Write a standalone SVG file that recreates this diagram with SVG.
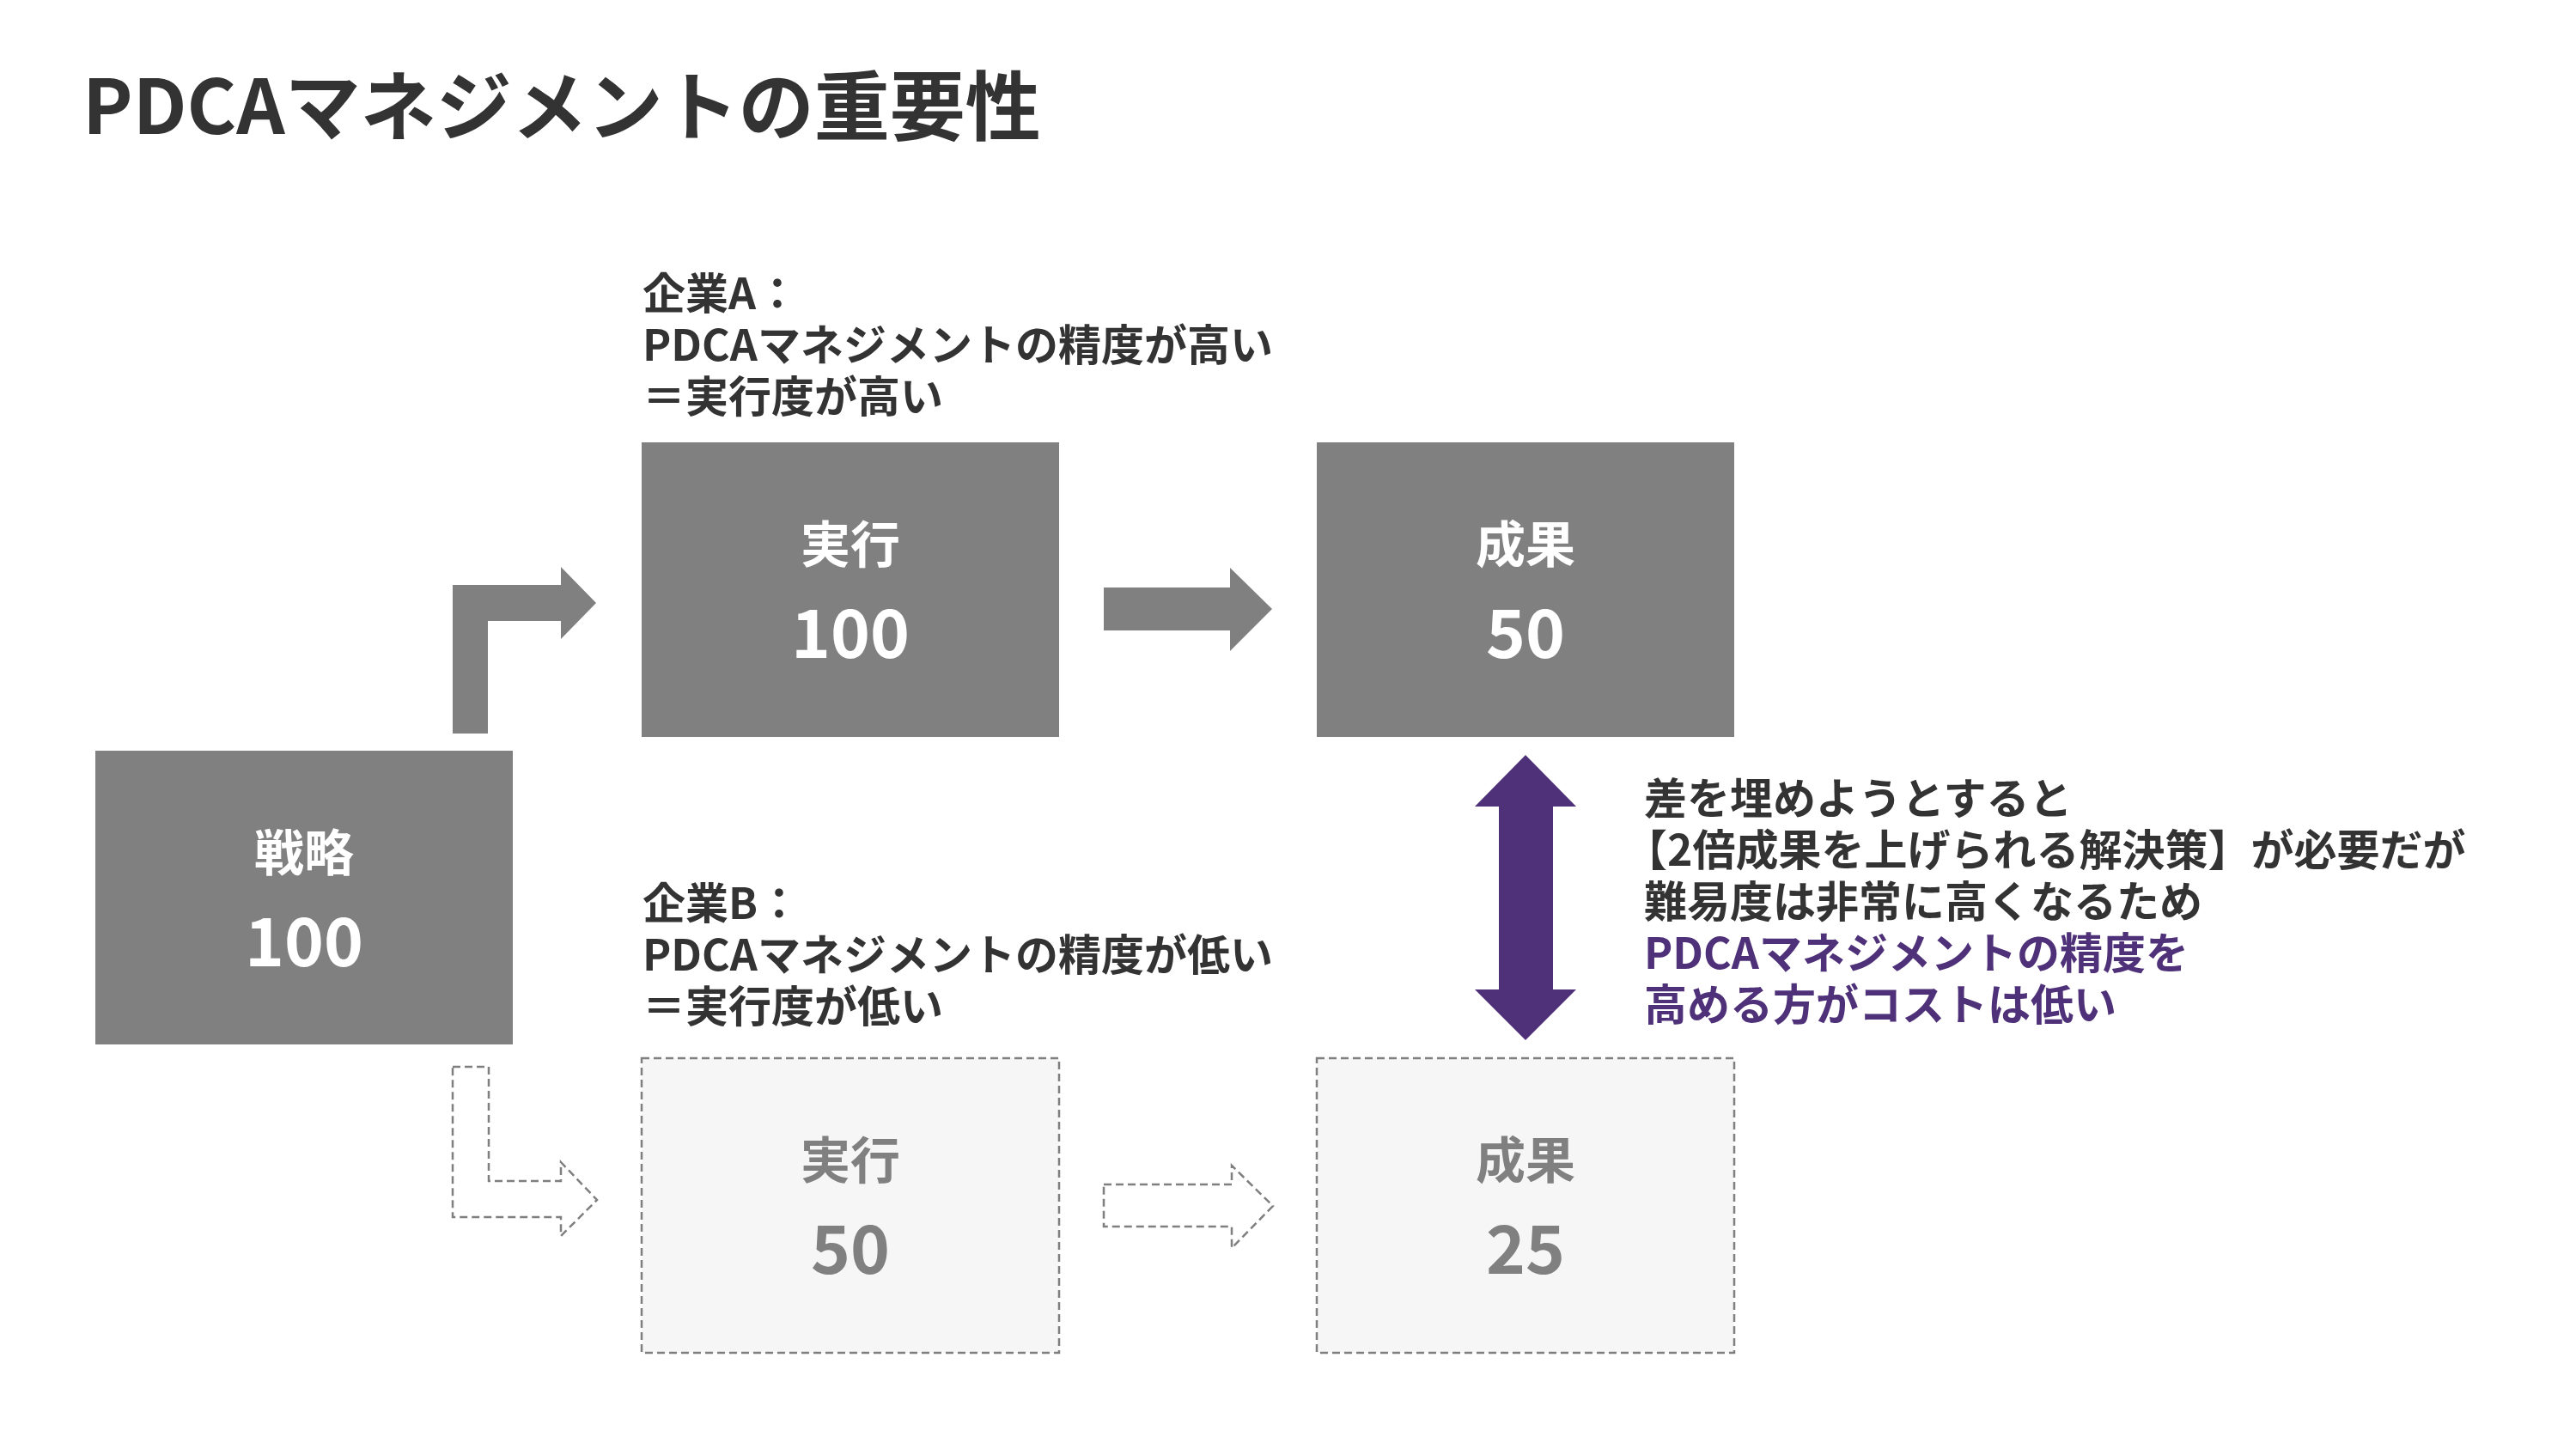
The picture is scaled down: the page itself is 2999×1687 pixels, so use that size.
<svg xmlns="http://www.w3.org/2000/svg" width="2999" height="1687" viewBox="0 0 2999 1687">
<style>
text{font-family:"Noto Sans CJK JP","Noto Sans",sans-serif;font-weight:700}
.title{font-size:88px;fill:#333333}
.lbl{font-size:50px;fill:#333333}
.pur{fill:#4F3179}
.solid{fill:#808080}
.dash{fill:#f6f6f6;stroke:#7f7f7f;stroke-width:2.5;stroke-dasharray:9 5}
.darr{fill:#ffffff;stroke:#7f7f7f;stroke-width:2.5;stroke-dasharray:9 5}
.nm{font-size:58px;text-anchor:middle}
.num{font-size:78px;text-anchor:middle}
.w{fill:#ffffff}
.g{fill:#808080}
</style>
<rect width="2999" height="1687" fill="#ffffff"/>
<text class="title" x="96" y="156">PDCAマネジメントの重要性</text>

<g id="label-a">
<text class="lbl"><tspan x="748" y="360">企業A：</tspan><tspan x="748" y="420">PDCAマネジメントの精度が高い</tspan><tspan x="748" y="480">＝実行度が高い</tspan></text>
</g>
<g id="label-b">
<text class="lbl"><tspan x="748" y="1070">企業B：</tspan><tspan x="748" y="1130">PDCAマネジメントの精度が低い</tspan><tspan x="748" y="1190">＝実行度が低い</tspan></text>
</g>

<g id="node-strategy">
<rect class="solid" x="111" y="874" width="486" height="342"/>
<text class="nm w" x="354" y="1014">戦略</text>
<text class="num w" x="354" y="1125">100</text>
</g>
<g id="node-exec-a">
<rect class="solid" x="747" y="515" width="486" height="343"/>
<text class="nm w" x="990" y="655">実行</text>
<text class="num w" x="990" y="766">100</text>
</g>
<g id="node-result-a">
<rect class="solid" x="1533" y="515" width="486" height="343"/>
<text class="nm w" x="1776" y="655">成果</text>
<text class="num w" x="1776" y="766">50</text>
</g>
<g id="node-exec-b">
<rect class="dash" x="747" y="1232" width="486" height="343"/>
<text class="nm g" x="990" y="1372">実行</text>
<text class="num g" x="990" y="1483">50</text>
</g>
<g id="node-result-b">
<rect class="dash" x="1533" y="1232" width="486" height="343"/>
<text class="nm g" x="1776" y="1372">成果</text>
<text class="num g" x="1776" y="1483">25</text>
</g>

<g id="connectors">
<polygon class="solid" points="527,854 527,681 653,681 653,660 694,702 653,744 653,723 568,723 568,854"/>
<polygon class="solid" points="1285,684 1432,684 1432,661 1481,709 1432,758 1432,734 1285,734"/>
<polygon class="darr" points="527,1242 569,1242 569,1375 653,1375 653,1353 695,1397 653,1439 653,1417 527,1417"/>
<polygon class="darr" points="1285,1379 1434,1379 1434,1357 1482,1404 1434,1453 1434,1428 1285,1428"/>
<polygon class="pur" points="1776,879 1835,939 1808,939 1808,1152 1835,1152 1776,1211 1717,1152 1745,1152 1745,939 1717,939"/>
</g>

<g id="note">
<text class="lbl"><tspan x="1914" y="948">差を埋めようとすると</tspan><tspan x="1891" y="1008">【2倍成果を上げられる解決策】が必要だが</tspan><tspan x="1914" y="1068">難易度は非常に高くなるため</tspan><tspan class="pur" x="1914" y="1128">PDCAマネジメントの精度を</tspan><tspan class="pur" x="1914" y="1188">高める方がコストは低い</tspan></text>
</g>
</svg>
